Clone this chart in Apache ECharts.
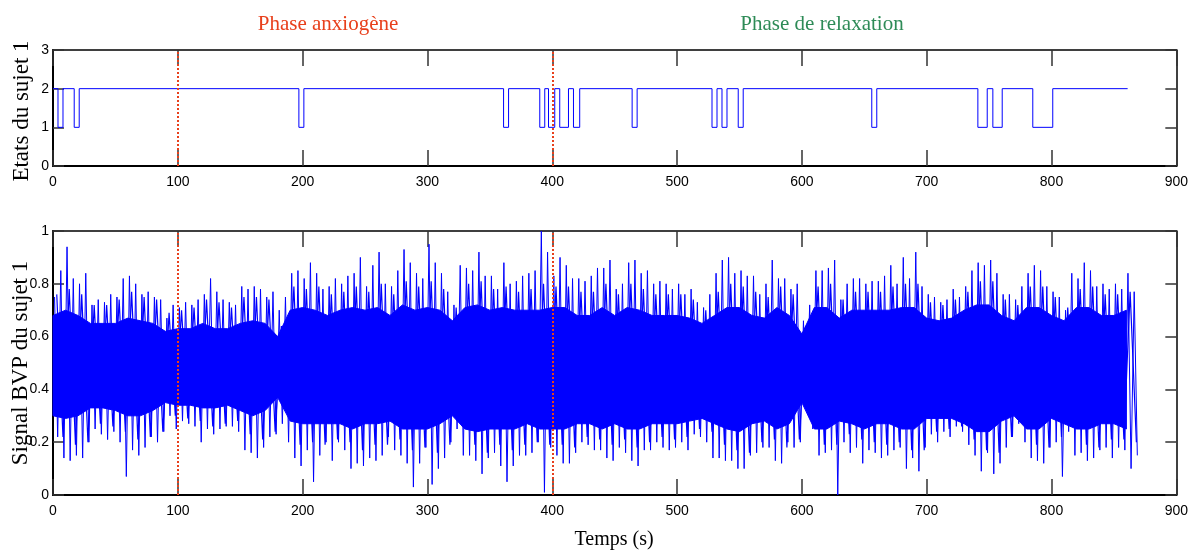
<!DOCTYPE html>
<html><head><meta charset="utf-8">
<script src="https://cdn.jsdelivr.net/npm/echarts@6/dist/echarts.min.js"></script>
<style>html,body{margin:0;padding:0;background:#fff}#c{width:1191px;height:553px}</style>
</head><body><div id="c"></div><script>
// ---- data ----
const phaseTitles = ['Phase anxiogène', 'Phase de relaxation'];
const phaseBounds = [100, 400];
const yNames = ['Etats du sujet 1', 'Signal BVP du sujet 1'];
const xName = 'Temps (s)';

// state of the subject (step signal): time where each level starts
const stateTimes  = [0,4,8,17,21,197,201,361,365,390,394,397,402,406,413,417,422,464,468,528,532,536,540,549,553,656,660,741,748.5,753,760.5,785,801,861];
const stateValues = [2,1,2,1,2,1,2,1,2,1,2,1,2,1,2,1,2,1,2,1,2,1,2,1,2,1,2,1,2,1,2,1,2,2];

// BVP signal: highest and lowest excursion in each 5 s window (t = 0,5,...,865)
const bvpStep = 5;
const bvpHi = [
0.75,0.85,0.94,0.82,0.80,0.84,0.72,0.74,0.73,0.76,
0.75,0.82,0.83,0.80,0.76,0.77,0.75,0.74,0.67,0.72,
0.71,0.73,0.72,0.74,0.76,0.82,0.77,0.74,0.73,0.72,
0.79,0.78,0.79,0.78,0.75,0.77,
0.70,0.75,0.84,0.85,0.82,0.88,0.84,0.78,0.79,0.82,
0.80,0.83,0.84,0.90,0.79,0.87,0.92,0.80,0.79,0.85,
0.93,0.88,0.84,0.82,0.95,0.88,0.84,0.77,0.72,0.87,
0.86,0.85,0.92,0.83,0.83,0.78,
0.88,0.80,0.81,0.83,0.84,0.85,1.00,0.92,0.83,0.90,
0.87,0.82,0.82,0.81,0.83,0.86,0.86,0.89,0.78,0.80,
0.88,0.89,0.84,0.85,0.80,0.81,0.80,0.78,0.80,0.76,
0.78,0.73,0.71,0.76,0.84,0.89,
0.90,0.84,0.85,0.83,0.83,0.76,0.80,0.89,0.82,0.82,
0.78,0.80,0.66,0.72,0.85,0.85,0.86,0.89,0.74,0.80,
0.82,0.82,0.80,0.81,0.81,0.83,0.87,0.80,0.90,0.82,
0.92,0.79,0.76,0.75,0.73,0.74,
0.78,0.75,0.79,0.85,0.88,0.87,0.89,0.84,0.76,0.76,
0.74,0.79,0.84,0.87,0.85,0.79,0.77,0.75,0.70,0.84,
0.82,0.88,0.85,0.79,0.80,0.78,0.80,0.78,0.84,0.77];
const bvpLo = [
0.22,0.14,0.13,0.15,0.14,0.20,0.25,0.23,0.21,0.24,
0.20,0.07,0.17,0.15,0.18,0.22,0.20,0.24,0.30,0.25,
0.28,0.27,0.26,0.20,0.25,0.23,0.25,0.26,0.26,0.24,
0.17,0.16,0.14,0.18,0.22,0.23,
0.27,0.20,0.14,0.11,0.17,0.05,0.15,0.20,0.13,0.20,
0.17,0.10,0.12,0.11,0.14,0.13,0.15,0.22,0.17,0.15,
0.12,0.03,0.12,0.18,0.04,0.10,0.14,0.20,0.25,0.15,
0.15,0.13,0.08,0.14,0.16,0.11,
0.05,0.11,0.15,0.15,0.16,0.20,0.01,0.18,0.15,0.12,
0.12,0.16,0.20,0.19,0.17,0.17,0.14,0.13,0.18,0.16,
0.13,0.11,0.17,0.17,0.20,0.18,0.17,0.18,0.20,0.17,
0.23,0.22,0.20,0.14,0.14,0.13,
0.13,0.10,0.10,0.15,0.16,0.18,0.18,0.13,0.12,0.20,
0.18,0.20,0.33,0.25,0.15,0.16,0.17,0.00,0.20,0.16,
0.18,0.12,0.17,0.16,0.14,0.15,0.17,0.18,0.10,0.14,
0.09,0.18,0.23,0.20,0.24,0.22,
0.26,0.24,0.19,0.15,0.09,0.16,0.08,0.12,0.18,0.22,
0.27,0.20,0.14,0.13,0.12,0.18,0.20,0.07,0.24,0.15,
0.16,0.13,0.14,0.17,0.18,0.14,0.18,0.17,0.10,0.15];

// typical (dense-hair) peak and trough level every 10 s (t = 0,10,...,860)
const hairStep = 10;
const midHi = [
0.76,0.78,0.76,0.72,0.72,0.74,0.77,0.75,0.74,0.69,
0.70,0.71,0.74,0.73,0.71,0.75,0.75,0.74,0.64,0.79,
0.78,0.79,0.76,0.77,0.79,0.77,0.80,0.76,0.81,0.79,
0.81,0.78,0.71,0.80,0.81,0.78,0.79,0.77,0.78,0.80,
0.79,0.79,0.77,0.77,0.80,0.76,0.80,0.78,0.76,0.76,
0.76,0.74,0.70,0.77,0.80,0.79,0.77,0.75,0.79,0.76,
0.64,0.79,0.80,0.74,0.77,0.77,0.77,0.79,0.80,0.80,
0.73,0.72,0.74,0.77,0.81,0.81,0.74,0.72,0.79,0.79,
0.75,0.71,0.78,0.79,0.76,0.76,0.77];
const midLo = [
0.22,0.19,0.20,0.27,0.26,0.24,0.21,0.22,0.24,0.30,
0.29,0.28,0.26,0.27,0.28,0.23,0.21,0.24,0.33,0.19,
0.20,0.19,0.21,0.20,0.17,0.19,0.19,0.21,0.17,0.18,
0.16,0.19,0.26,0.19,0.16,0.19,0.17,0.19,0.20,0.19,
0.19,0.18,0.22,0.21,0.19,0.21,0.18,0.20,0.22,0.21,
0.22,0.25,0.24,0.19,0.17,0.16,0.20,0.21,0.18,0.21,
0.33,0.19,0.19,0.23,0.21,0.20,0.19,0.20,0.17,0.17,
0.24,0.25,0.26,0.21,0.17,0.16,0.22,0.27,0.19,0.18,
0.22,0.26,0.19,0.18,0.21,0.21,0.20];

// dense (solid) core of the BVP trace every 10 s (t = 0,10,...,860)
const coreStep = 10;
const coreHi = [
0.68,0.70,0.68,0.65,0.65,0.65,0.67,0.66,0.65,0.62,
0.63,0.63,0.65,0.63,0.63,0.65,0.66,0.65,0.60,0.70,
0.71,0.70,0.68,0.70,0.71,0.70,0.71,0.68,0.72,0.70,
0.71,0.70,0.66,0.71,0.72,0.70,0.71,0.70,0.70,0.70,
0.71,0.71,0.68,0.68,0.71,0.68,0.71,0.70,0.68,0.68,
0.68,0.67,0.65,0.68,0.71,0.71,0.68,0.67,0.71,0.68,
0.61,0.71,0.71,0.67,0.70,0.70,0.70,0.70,0.71,0.71,
0.67,0.66,0.67,0.70,0.72,0.72,0.68,0.66,0.71,0.71,
0.68,0.66,0.71,0.71,0.68,0.68,0.70];
const coreLo = [
0.30,0.29,0.30,0.33,0.33,0.32,0.30,0.30,0.32,0.35,
0.34,0.34,0.33,0.33,0.34,0.32,0.30,0.32,0.37,0.28,
0.27,0.27,0.27,0.27,0.25,0.27,0.27,0.28,0.25,0.25,
0.25,0.27,0.30,0.25,0.24,0.25,0.25,0.25,0.27,0.25,
0.25,0.25,0.27,0.27,0.25,0.27,0.25,0.25,0.27,0.27,
0.27,0.28,0.29,0.27,0.25,0.24,0.27,0.28,0.25,0.27,
0.35,0.25,0.25,0.28,0.27,0.25,0.27,0.27,0.25,0.25,
0.29,0.29,0.29,0.27,0.24,0.24,0.28,0.30,0.25,0.25,
0.29,0.27,0.25,0.25,0.27,0.27,0.25];

// ---- build ----
const BLUE = '#0000ff', RED = '#e8401c', GREEN = '#2e8b57';
const tickFont = {fontFamily:'"Liberation Sans Narrow","Liberation Sans",Arial,sans-serif', fontSize:14, color:'#000'};
const serif = '"Liberation Serif","Times New Roman",serif';

const statePts = stateTimes.map((t,i)=>[t, stateValues[i]]);
const zig = [];
bvpHi.forEach((h,i)=>{ zig.push([i*bvpStep + bvpStep*0.25, h]); zig.push([i*bvpStep + bvpStep*0.75, bvpLo[i]]); });
const hair = [];
midHi.forEach((h,i)=>{ hair.push([i*hairStep + hairStep*0.3, h]); hair.push([i*hairStep + hairStep*0.8, midLo[i]]); });
const coreData = coreHi.map((v,i)=>[i*coreStep, v, coreLo[i]]);

function xAx(grid, pos){
  const bottom = pos === 'bottom';
  return {type:'value', gridIndex:grid, position:pos, min:0, max:900, interval:100,
    axisLine:{show:true, onZero:false, lineStyle:{color:'#000', width: bottom?2:1.5}},
    axisTick:{show:true, inside:true, length:16, lineStyle:{color:'#333', width:1.5}},
    axisLabel:Object.assign({show:bottom, margin:9}, tickFont),
    splitLine:{show:false}};
}
function yAx(grid, pos, max, interval){
  const left = pos === 'left';
  return {type:'value', gridIndex:grid, position:pos, min:0, max:max, interval:interval,
    axisLine:{show:true, onZero:false, lineStyle:{color:'#000', width: left?2:1.5}},
    axisTick:{show:true, inside:true, length:11, lineStyle:{color:'#333', width:1.5}},
    axisLabel:Object.assign({show:left, margin:4}, tickFont),
    splitLine:{show:false}};
}
const redLines = (xi, yi) => ({type:'line', xAxisIndex:xi, yAxisIndex:yi, data:[], z:10,
  markLine:{silent:true, symbol:['none','none'], label:{show:false}, animation:false,
    lineStyle:{color:RED, type:[2,2], width:2}, data: phaseBounds.map(v=>({xAxis:v}))}});

const option = {
  animation:false,
  backgroundColor:'#fff',
  grid:[
    {left:53, right:14, top:50, height:116},
    {left:53, right:14, top:231, height:264}
  ],
  xAxis:[xAx(0,'bottom'), xAx(0,'top'), xAx(1,'bottom'), xAx(1,'top')],
  yAxis:[yAx(0,'left',3,1), yAx(0,'right',3,1), yAx(1,'left',1,0.2), yAx(1,'right',1,0.2)],
  series:[
    {type:'line', xAxisIndex:0, yAxisIndex:0, step:'end', data:statePts, symbol:'none',
      lineStyle:{color:BLUE, width:1}},
    redLines(0,0),
    {type:'custom', xAxisIndex:2, yAxisIndex:2, data:coreData, encode:{x:0, y:[1,2]}, z:2,
      renderItem:function(params, api){
        if (params.dataIndex !== 0) return null;
        const up = [], dn = [];
        for (let i = 0; i < coreData.length; i++) {
          up.push(api.coord([coreData[i][0], coreData[i][1]]));
          dn.push(api.coord([coreData[i][0], coreData[i][2]]));
        }
        return {type:'polygon', shape:{points: up.concat(dn.reverse())},
          style:{fill:BLUE, stroke:BLUE, lineWidth:1}};
      }},
    {type:'line', xAxisIndex:2, yAxisIndex:2, data:hair, symbol:'none', sampling:null, z:3,
      lineStyle:{color:BLUE, width:1.2}},
    {type:'line', xAxisIndex:2, yAxisIndex:2, data:zig, symbol:'none', sampling:null, z:3,
      lineStyle:{color:BLUE, width:1}},
    redLines(2,2)
  ],
  graphic:[
    {type:'text', x:328, y:24, style:{text:phaseTitles[0], fill:RED, fontFamily:serif, fontSize:21, align:'center', verticalAlign:'middle'}},
    {type:'text', x:822, y:24, style:{text:phaseTitles[1], fill:GREEN, fontFamily:serif, fontSize:21, align:'center', verticalAlign:'middle'}},
    {type:'text', x:22, y:111, rotation:Math.PI/2, style:{text:yNames[0], fill:'#000', fontFamily:serif, fontSize:23, align:'center', verticalAlign:'middle'}},
    {type:'text', x:21, y:363, rotation:Math.PI/2, style:{text:yNames[1], fill:'#000', fontFamily:serif, fontSize:23, align:'center', verticalAlign:'middle'}},
    {type:'text', x:614, y:540, style:{text:xName, fill:'#000', fontFamily:serif, fontSize:20, align:'center', verticalAlign:'middle'}}
  ]
};
const chart = echarts.init(document.getElementById('c'), null, {renderer:'canvas'});
chart.setOption(option);
</script></body></html>
